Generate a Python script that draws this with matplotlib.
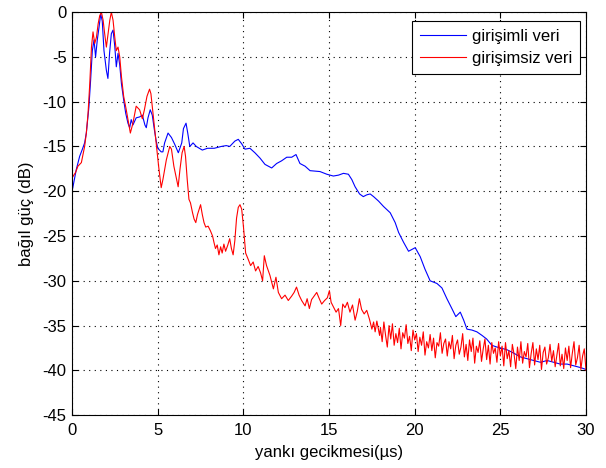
import numpy as np
import matplotlib
matplotlib.use("Agg")
import matplotlib.pyplot as plt

plt.rcParams["font.family"] = ["Liberation Sans", "DejaVu Sans"]
plt.rcParams["axes.unicode_minus"] = False

# girişimli veri (mavi)
blue_t = [0.0, 0.24, 0.44, 0.6, 0.73, 0.83, 0.98, 1.08, 1.18, 1.28, 1.37, 1.47, 1.57, 1.67,
          1.76, 1.86, 2.0, 2.09, 2.19, 2.29, 2.39, 2.49, 2.58, 2.68, 2.78, 2.88, 3.01, 3.13,
          3.26, 3.36, 3.45, 3.55, 3.74, 3.94, 4.1, 4.25, 4.33, 4.43, 4.56, 4.68, 4.8, 4.9,
          5.0, 5.2, 5.3, 5.4, 5.6, 5.8, 6.0, 6.2, 6.4, 6.5, 6.65, 6.75, 6.87, 7.06, 7.25,
          7.6, 7.9, 8.3, 8.7, 9.0, 9.2, 9.5, 9.7, 9.9, 10.09, 10.38, 10.67, 10.97, 11.26,
          11.65, 11.94, 12.23, 12.53, 12.82, 13.07, 13.3, 13.6, 13.89, 14.47, 14.87, 15.25,
          15.55, 15.84, 16.13, 16.33, 16.52, 16.78, 17.0, 17.2, 17.4, 17.6, 17.89, 18.18,
          18.57, 18.86, 19.06, 19.35, 19.64, 19.83, 20.03, 20.32, 20.6, 20.9, 21.3, 21.59,
          21.88, 22.17, 22.4, 22.66, 22.86, 23.05, 23.34, 23.63, 23.93, 24.2, 24.5, 24.8,
          25.0, 25.39, 25.8, 26.17, 26.56, 26.95, 27.34, 27.73, 28.12, 28.5, 28.9, 29.3,
          29.7, 30.0]
blue_db = [-20.0, -17.6, -16.1, -15.3, -14.6, -13.5, -10.6, -7.6, -4.3, -3.1, -5.0, -3.1,
           -1.7, -0.2, -1.0, -4.3, -6.5, -7.4, -4.5, -2.4, -2.0, -3.8, -6.1, -4.6, -5.9,
           -8.0, -9.8, -11.3, -12.4, -12.9, -12.0, -12.6, -11.8, -11.7, -11.5, -12.6, -12.9,
           -11.8, -10.9, -11.5, -13.1, -14.3, -15.2, -15.6, -15.6, -14.6, -13.5, -14.0,
           -14.8, -15.7, -14.6, -13.0, -12.4, -13.5, -15.0, -14.6, -15.0, -15.4, -15.2,
           -15.2, -15.0, -14.9, -15.0, -14.4, -14.2, -14.7, -15.3, -15.2, -15.7, -16.3,
           -17.0, -17.4, -16.9, -16.6, -16.2, -16.2, -15.9, -16.9, -17.2, -17.7, -17.8,
           -18.1, -18.3, -18.2, -18.0, -18.1, -18.7, -19.5, -20.3, -20.6, -20.4, -20.3,
           -20.6, -21.1, -21.7, -22.4, -23.5, -24.6, -25.7, -26.7, -26.5, -26.3, -27.3,
           -28.7, -30.0, -30.3, -30.8, -32.0, -33.1, -34.0, -33.5, -34.4, -35.4, -35.5,
           -35.7, -36.1, -36.5, -37.2, -37.4, -37.5, -37.7, -38.1, -38.5, -38.7, -38.9,
           -39.1, -38.9, -39.1, -39.3, -39.3, -39.5, -39.7, -39.9]

# girişimsiz veri (kırmızı), 18 µs'ye kadar
red_t = [0.0, 0.2, 0.34, 0.54, 0.73, 0.83, 0.93, 1.03, 1.13, 1.22, 1.32, 1.42, 1.52, 1.61,
         1.71, 1.81, 1.9, 2.0, 2.1, 2.2, 2.29, 2.39, 2.49, 2.58, 2.68, 2.78, 2.88, 3.01,
         3.16, 3.26, 3.36, 3.4, 3.55, 3.74, 3.94, 4.1, 4.22, 4.37, 4.52, 4.6, 4.7, 4.8,
         4.93, 5.05, 5.2, 5.3, 5.5, 5.7, 5.8, 5.94, 6.1, 6.19, 6.3, 6.42, 6.54, 6.62,
         6.72, 6.82, 6.91, 7.03, 7.12, 7.22, 7.32, 7.42, 7.5, 7.6, 7.7, 7.8, 7.94, 8.07,
         8.2, 8.28, 8.37, 8.47, 8.57, 8.67, 8.76, 8.86, 8.96, 9.09, 9.2, 9.3, 9.4, 9.5,
         9.6, 9.7, 9.8, 9.9, 10.0, 10.13, 10.28, 10.42, 10.57, 10.71, 10.86, 11.0, 11.12,
         11.22, 11.35, 11.55, 11.75, 11.9, 12.04, 12.23, 12.43, 12.62, 12.82, 12.96, 13.1,
         13.25, 13.4, 13.6, 13.72, 13.85, 13.98, 14.13, 14.28, 14.43, 14.57, 14.74, 14.9,
         15.02, 15.12, 15.25, 15.41, 15.55, 15.68, 15.8, 15.93, 16.07, 16.22, 16.37, 16.52,
         16.65, 16.77, 16.9, 17.05, 17.2, 17.36, 17.5, 17.6, 17.69, 17.79, 17.95]
red_db = [-18.5, -17.9, -17.2, -16.8, -15.0, -13.5, -11.3, -8.0, -3.9, -2.2, -3.5, -2.8,
          -1.3, -0.4, 0.0, -0.9, -2.4, -3.9, -2.4, -0.9, 0.0, -0.9, -2.8, -4.3, -3.9, -5.0,
          -7.2, -9.4, -10.9, -12.0, -13.1, -13.5, -12.4, -10.5, -10.9, -11.9, -10.9, -9.4,
          -8.6, -9.1, -10.9, -12.8, -15.0, -17.2, -19.6, -18.7, -16.5, -15.0, -15.3, -17.2,
          -18.7, -19.5, -17.5, -15.7, -15.0, -16.1, -18.7, -20.9, -21.3, -22.4, -23.1,
          -23.5, -22.6, -22.0, -21.5, -22.6, -23.5, -24.0, -23.9, -24.4, -25.0, -25.7,
          -26.4, -26.0, -27.1, -26.2, -26.9, -25.9, -26.7, -26.0, -25.3, -26.4, -27.1,
          -25.5, -23.0, -21.8, -21.5, -22.0, -23.9, -26.9, -27.6, -28.3, -27.9, -28.9,
          -28.4, -29.1, -30.0, -27.2, -28.3, -29.4, -30.9, -29.6, -31.3, -32.0, -31.6,
          -32.2, -31.7, -31.3, -30.7, -31.6, -32.2, -32.8, -32.0, -33.1, -32.1, -31.7,
          -31.3, -32.0, -32.6, -32.2, -31.9, -31.1, -32.4, -32.9, -33.5, -33.1, -35.0,
          -32.6, -33.0, -32.4, -33.5, -32.7, -34.4, -33.4, -32.0, -33.2, -33.7, -33.3,
          -34.3, -35.4, -34.6, -35.7, -34.5, -36.1]

# 18-30 µs arası gürültülü kuyruk, 0.1 µs adımla okunan değerler
red_tail_db = [
    -35.2, -36.8, -34.6, -36.1, -37.4, -35.0, -36.5, -34.8, -37.2, -35.9,
    -36.9, -35.3, -37.6, -35.8, -36.4, -34.9, -37.0, -36.2, -37.8, -35.5,
    -36.6, -35.9, -37.9, -36.3, -37.2, -35.7, -38.3, -36.8, -37.5, -36.0,
    -37.8, -36.4, -38.6, -36.9, -37.3, -35.8, -38.1, -37.0, -36.5, -38.4,
    -36.8, -37.6, -36.1, -38.7, -37.2, -36.6, -38.2, -37.4, -35.9, -38.5,
    -37.1, -38.9, -36.6, -37.9, -36.4, -39.2, -37.3, -38.0, -36.7, -39.0,
    -37.6, -36.5, -38.8, -37.2, -39.3, -36.9, -38.1, -37.5, -39.1, -36.8,
    -38.4, -37.3, -39.5, -36.9, -38.7, -37.8, -39.6, -37.1, -38.2, -39.8,
    -37.4, -38.9, -36.8, -39.2, -37.9, -38.5, -37.0, -39.7, -38.1, -36.9,
    -39.4, -37.6, -38.8, -37.2, -39.9, -38.0, -37.4, -39.3, -38.6, -37.1,
    -39.0, -37.8, -39.6, -38.3, -37.0, -39.5, -38.2, -39.8, -37.5, -38.9,
    -37.3, -39.7, -38.1, -36.8, -39.4, -38.6, -37.2, -39.9, -38.4, -37.6, -40.0,
]
red_tail_t = np.linspace(18.0, 30.0, len(red_tail_db))

x_ticks = [0, 5, 10, 15, 20, 25, 30]
y_ticks = [0, -5, -10, -15, -20, -25, -30, -35, -40, -45]

fig = plt.figure(figsize=(6.06, 4.68), dpi=100)
ax = fig.add_axes([0.119, 0.113, 0.848, 0.861])

ax.plot(blue_t, blue_db, color="#0000ff", lw=0.8, label="girişimli veri")
ax.plot(list(red_t) + list(red_tail_t), list(red_db) + list(red_tail_db),
        color="#ff0000", lw=0.8, label="girişimsiz veri")

ax.set_xlim(0, 30)
ax.set_ylim(-45, 0)
ax.set_xticks(x_ticks)
ax.set_yticks(y_ticks)
ax.grid(True, ls=(0, (1, 4)), lw=0.8, color="black")
ax.tick_params(direction="in", top=True, right=True, labelsize=12, length=4)
ax.tick_params(axis="x", pad=6)
ax.tick_params(axis="y", pad=4)
for sp in ax.spines.values():
    sp.set_linewidth(0.8)

ax.set_xlabel("yankı gecikmesi(µs)", fontsize=12, labelpad=5)
ax.set_ylabel("bağıl güç (dB)", fontsize=12, labelpad=6)

leg = ax.legend(loc="upper right", bbox_to_anchor=(0.988, 0.978), borderaxespad=0,
                fontsize=12, fancybox=False, framealpha=1, edgecolor="black",
                handlelength=2.8, borderpad=0.45, labelspacing=0.45, handletextpad=0.35)
leg.get_frame().set_linewidth(0.8)

fig.savefig("out.png", dpi=100)
